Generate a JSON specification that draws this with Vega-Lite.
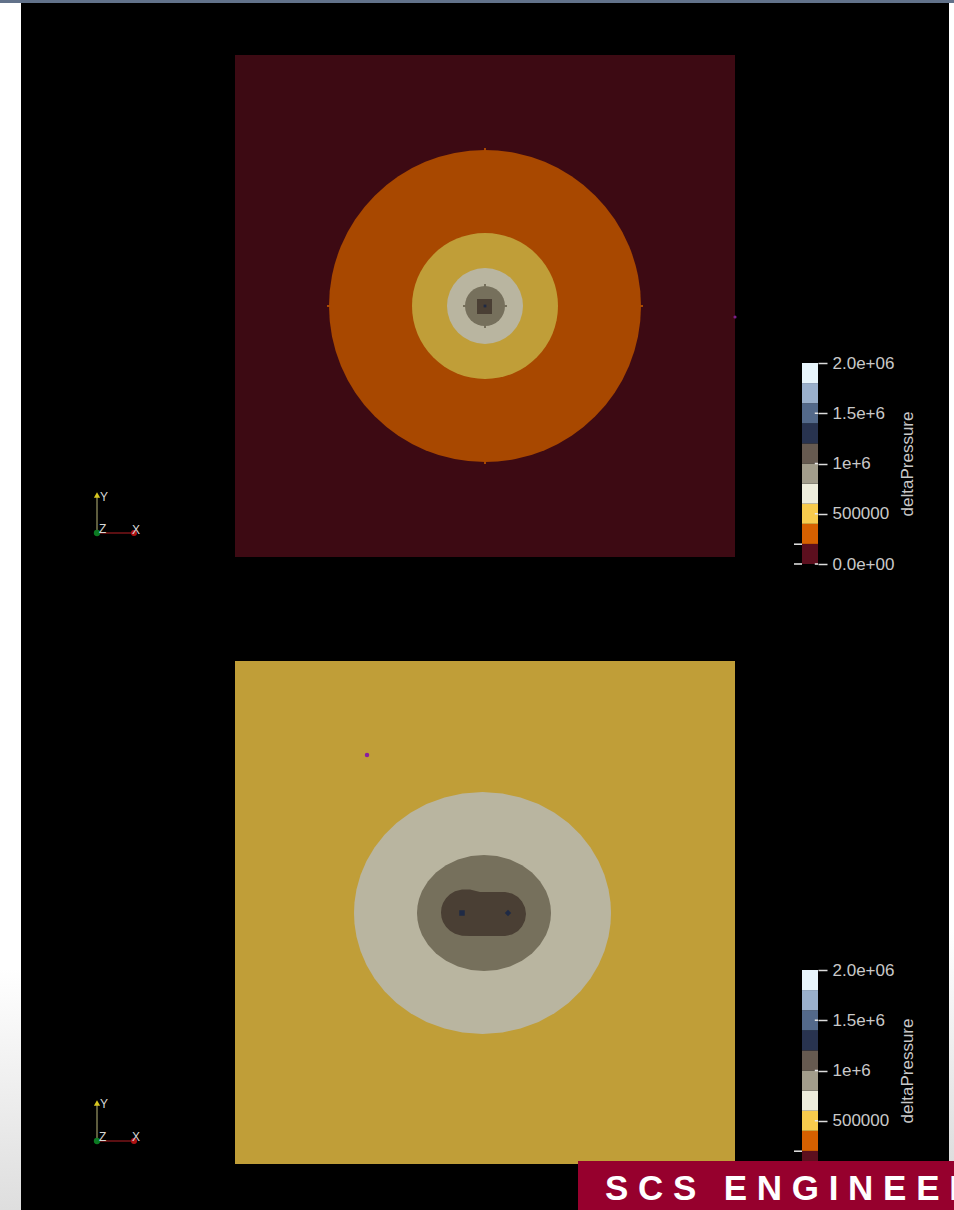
{"$schema":"https://vega.github.io/schema/vega-lite/v6.json","width":954,"height":1210,"autosize":{"type":"none"},"padding":0,"background":"#000000","config":{"view":{"stroke":null},"text":{"font":"Liberation Sans"}},
"datasets":{
"chromeSide":[{"x":0,"x2":21,"y":3,"y2":1210},{"x":949,"x2":954,"y":3,"y2":1161}],
"chromeTop":[{"x":0,"x2":954,"y":0,"y2":3}],
"triadAxes":[{"axis":"Y","x":97,"x2":97,"y":533,"y2":496},{"axis":"X","x":97,"x2":132,"y":533,"y2":533},{"axis":"Y","x":97,"x2":97,"y":1141,"y2":1103},{"axis":"X","x":97,"x2":132,"y":1141,"y2":1141}],
"triadTips":[{"part":"origin","x":97,"y":533},{"part":"Y tip","x":97,"y":495},{"part":"X tip","x":134,"y":533},{"part":"origin","x":97,"y":1141},{"part":"Y tip","x":97,"y":1103},{"part":"X tip","x":134,"y":1141}],
"triadText":[{"label":"Y","x":100,"y":501},{"label":"Z","x":99,"y":533},{"label":"X","x":132,"y":534},{"label":"Y","x":100,"y":1108},{"label":"Z","x":99,"y":1141},{"label":"X","x":132,"y":1141}],
"topSquare":[{"x":-250,"x2":250,"y":-251,"y2":251,"low":0}],
"topCircles":[{"x":0,"y":0,"r":156,"low":200000},{"x":0,"y":0,"r":73,"low":400000},{"x":0,"y":0,"r":38,"low":600000},{"x":0,"y":0,"r":20,"low":800000}],
"topCore":[{"x":-1,"x2":1,"y":154,"y2":158,"low":200000},{"x":-1,"x2":1,"y":-158,"y2":-154,"low":200000},{"x":-158,"x2":-154,"y":-1,"y2":1,"low":200000},{"x":154,"x2":158,"y":-1,"y2":1,"low":200000},{"x":-1,"x2":1,"y":18,"y2":22,"low":800000},{"x":-1,"x2":1,"y":-22,"y2":-18,"low":800000},{"x":-22,"x2":-18,"y":-1,"y2":1,"low":800000},{"x":18,"x2":22,"y":-1,"y2":1,"low":800000},{"x":-8,"x2":7,"y":-8,"y2":7,"low":1000000}],
"topSites":[{"site":"probe","x":250,"y":-11},{"site":"well A","x":0,"y":0}],
"bottomSquare":[{"x":-250,"x2":250,"y":-251.5,"y2":251.5,"low":400000}],
"bottomZones":[
{"x":-131,"y":-0.5,"y2":-0.5,"low":600000},{"x":-130.5,"y":10.2,"y2":-11.2,"low":600000},{"x":-128.5,"y":23.3,"y2":-24.3,"low":600000},{"x":-124.5,"y":37.5,"y2":-38.5,"low":600000},{"x":-118.5,"y":51.5,"y2":-52.5,"low":600000},{"x":-110.5,"y":65.1,"y2":-66.1,"low":600000},{"x":-100.5,"y":77.8,"y2":-78.8,"low":600000},{"x":-88.5,"y":89.4,"y2":-90.4,"low":600000},{"x":-74.5,"y":99.7,"y2":-100.7,"low":600000},{"x":-58.5,"y":108.4,"y2":-109.4,"low":600000},{"x":-40.5,"y":115.1,"y2":-116.1,"low":600000},{"x":-22.5,"y":119,"y2":-120,"low":600000},{"x":-2.5,"y":120.5,"y2":-121.5,"low":600000},{"x":17.5,"y":119,"y2":-120,"low":600000},{"x":35.5,"y":115.1,"y2":-116.1,"low":600000},{"x":53.5,"y":108.4,"y2":-109.4,"low":600000},{"x":69.5,"y":99.7,"y2":-100.7,"low":600000},{"x":83.5,"y":89.4,"y2":-90.4,"low":600000},{"x":95.5,"y":77.8,"y2":-78.8,"low":600000},{"x":105.5,"y":65.1,"y2":-66.1,"low":600000},{"x":113.5,"y":51.5,"y2":-52.5,"low":600000},{"x":119.5,"y":37.5,"y2":-38.5,"low":600000},{"x":123.5,"y":23.3,"y2":-24.3,"low":600000},{"x":125.5,"y":10.2,"y2":-11.2,"low":600000},{"x":126,"y":-0.5,"y2":-0.5,"low":600000},
{"x":-68,"y":-0.5,"y2":-0.5,"low":800000},{"x":-67.5,"y":6.5,"y2":-7.5,"low":800000},{"x":-66,"y":13.5,"y2":-14.5,"low":800000},{"x":-63,"y":21.5,"y2":-22.5,"low":800000},{"x":-57,"y":31.3,"y2":-32.3,"low":800000},{"x":-49,"y":40,"y2":-41,"low":800000},{"x":-39,"y":47.3,"y2":-48.3,"low":800000},{"x":-27,"y":53,"y2":-54,"low":800000},{"x":-14,"y":56.4,"y2":-57.4,"low":800000},{"x":-1,"y":57.5,"y2":-58.5,"low":800000},{"x":12,"y":56.4,"y2":-57.4,"low":800000},{"x":25,"y":53,"y2":-54,"low":800000},{"x":37,"y":47.3,"y2":-48.3,"low":800000},{"x":47,"y":40,"y2":-41,"low":800000},{"x":55,"y":31.3,"y2":-32.3,"low":800000},{"x":61,"y":21.5,"y2":-22.5,"low":800000},{"x":64,"y":13.5,"y2":-14.5,"low":800000},{"x":65.5,"y":6.5,"y2":-7.5,"low":800000},{"x":66,"y":-0.5,"y2":-0.5,"low":800000},
{"x":-44,"y":0,"y2":0,"low":1000000},{"x":-43.5,"y":5,"y2":-5,"low":1000000},{"x":-42,"y":9.4,"y2":-9.4,"low":1000000},{"x":-39,"y":14.3,"y2":-14.3,"low":1000000},{"x":-35,"y":18.2,"y2":-18.2,"low":1000000},{"x":-30,"y":21.2,"y2":-21.2,"low":1000000},{"x":-23,"y":23,"y2":-23.3,"low":1000000},{"x":-15,"y":23,"y2":-23.5,"low":1000000},{"x":-9,"y":21.5,"y2":-23.5,"low":1000000},{"x":-5,"y":20.5,"y2":-23.5,"low":1000000},{"x":20,"y":20.5,"y2":-23.5,"low":1000000},{"x":27,"y":19,"y2":-22,"low":1000000},{"x":33,"y":15.5,"y2":-18.5,"low":1000000},{"x":37,"y":11,"y2":-14,"low":1000000},{"x":40,"y":5,"y2":-8,"low":1000000},{"x":41,"y":-1.5,"y2":-1.5,"low":1000000}],
"bottomSites":[{"site":"probe","x":-118,"y":157.5},{"site":"well A","x":-23,"y":-0.5},{"site":"well B","x":23,"y":-0.5}],
"bands":[{"low":0,"high":200000},{"low":200000,"high":400000},{"low":400000,"high":600000},{"low":600000,"high":800000},{"low":800000,"high":1000000},{"low":1000000,"high":1200000},{"low":1200000,"high":1400000},{"low":1400000,"high":1600000},{"low":1600000,"high":1800000},{"low":1800000,"high":2000000}],
"barTicksTop":[{"low":197000,"from":-0.5,"to":0},{"low":0,"from":-0.5,"to":0},{"low":0,"from":0.8,"to":1},{"low":500000,"from":0.8,"to":1},{"low":1000000,"from":0.8,"to":1},{"low":1500000,"from":0.8,"to":1}],
"barTicksBottom":[{"low":197000,"from":-0.5,"to":0},{"low":500000,"from":0.8,"to":1},{"low":1000000,"from":0.8,"to":1},{"low":1500000,"from":0.8,"to":1}],
"banner":[{"x":578,"x2":954,"y":1161,"y2":1210}],
"bannerText":[{"label":"S C S \u2002E N G I N E E R I N G","x":605,"y":1200}]
},
"layer":[
{"encoding":{"x":{"field":"x","type":"quantitative","axis":null,"scale":{"domain":[0,954],"range":[0,954],"nice":false,"zero":false}},"y":{"field":"y","type":"quantitative","axis":null,"scale":{"domain":[0,1210],"range":[0,1210],"nice":false,"zero":false}}},
"resolve":{"scale":{"color":"independent"}},
"layer":[
{"data":{"name":"chromeSide"},"mark":{"type":"rect","color":{"gradient":"linear","x1":0,"y1":0,"x2":0,"y2":1,"stops":[{"offset":0,"color":"#ffffff"},{"offset":0.8,"color":"#ffffff"},{"offset":1,"color":"#dedede"}]}},"encoding":{"x2":{"field":"x2"},"y2":{"field":"y2"}}},
{"data":{"name":"chromeTop"},"mark":{"type":"rect","color":"#62728a"},"encoding":{"x2":{"field":"x2"},"y2":{"field":"y2"}}},
{"data":{"name":"triadAxes"},"mark":{"type":"rule","strokeWidth":1.5},"encoding":{"x2":{"field":"x2"},"y2":{"field":"y2"},"color":{"field":"axis","type":"nominal","legend":null,"scale":{"domain":["X","Y"],"range":["#7a1418","#7d7b52"]}}}},
{"data":{"name":"triadTips"},"mark":{"type":"point","filled":true,"opacity":1},"encoding":{"color":{"field":"part","type":"nominal","legend":null,"scale":{"domain":["origin","Y tip","X tip"],"range":["#0b7a22","#d9c81f","#b01212"]}},"shape":{"field":"part","type":"nominal","legend":null,"scale":{"domain":["origin","Y tip","X tip"],"range":["circle","triangle-up","circle"]}},"size":{"field":"part","type":"nominal","legend":null,"scale":{"domain":["origin","Y tip","X tip"],"range":[40,36,28]}}}},
{"data":{"name":"triadText"},"mark":{"type":"text","align":"left","baseline":"alphabetic","fontSize":12,"font":"Liberation Sans","color":"#d8d8d8"},"encoding":{"text":{"field":"label"}}}
]},
{"encoding":{"x":{"field":"x","type":"quantitative","axis":null,"scale":{"domain":[-250,250],"range":[235,735],"nice":false,"zero":false}},"y":{"field":"y","type":"quantitative","axis":null,"scale":{"domain":[-251,251],"range":[557,55],"nice":false,"zero":false}},"color":{"field":"low","type":"ordinal","legend":null,"scale":{"domain":[0,200000,400000,600000,800000,1000000,1200000],"range":["#3d0a13","#a84800","#c09e38","#b9b5a0","#76705c","#4a3f34","#1f2a45"]}}},
"resolve":{"scale":{"color":"independent"}},
"layer":[
{"data":{"name":"topSquare"},"mark":{"type":"rect"},"encoding":{"x2":{"field":"x2"},"y2":{"field":"y2"}}},
{"data":{"name":"topCircles"},"mark":{"type":"arc","theta":0,"theta2":6.2832,"innerRadius":0},"encoding":{"radius":{"field":"r","type":"quantitative","stack":null,"legend":null,"scale":{"type":"linear","domain":[0,500],"range":[0,500]}}}},
{"data":{"name":"topCore"},"mark":{"type":"rect"},"encoding":{"x2":{"field":"x2"},"y2":{"field":"y2"}}},
{"data":{"name":"topSites"},"mark":{"type":"point","filled":true,"opacity":1},"encoding":{"color":{"field":"site","type":"nominal","legend":null,"scale":{"domain":["probe","well A","well B"],"range":["#7a1f8a","#1f2a45","#1f2a45"]}},"shape":{"field":"site","type":"nominal","legend":null,"scale":{"domain":["probe","well A","well B"],"range":["circle","square","diamond"]}},"size":{"field":"site","type":"nominal","legend":null,"scale":{"domain":["probe","well A","well B"],"range":[10,5,5]}}}}
]},
{"encoding":{"x":{"field":"x","type":"quantitative","axis":null,"scale":{"domain":[-250,250],"range":[235,735],"nice":false,"zero":false}},"y":{"field":"y","type":"quantitative","axis":null,"scale":{"domain":[-251.5,251.5],"range":[1164,661],"nice":false,"zero":false}},"color":{"field":"low","type":"ordinal","legend":null,"scale":{"domain":[0,200000,400000,600000,800000,1000000,1200000],"range":["#3d0a13","#a84800","#c09e38","#b9b5a0","#76705c","#4a3f34","#1f2a45"]}}},
"resolve":{"scale":{"color":"independent"}},
"layer":[
{"data":{"name":"bottomSquare"},"mark":{"type":"rect"},"encoding":{"x2":{"field":"x2"},"y2":{"field":"y2"}}},
{"data":{"name":"bottomZones"},"mark":{"type":"area"},"encoding":{"y2":{"field":"y2"}}},
{"data":{"name":"bottomSites"},"mark":{"type":"point","filled":true,"opacity":1},"encoding":{"color":{"field":"site","type":"nominal","legend":null,"scale":{"domain":["probe","well A","well B"],"range":["#8a1fa0","#1f2a45","#1f2a45"]}},"shape":{"field":"site","type":"nominal","legend":null,"scale":{"domain":["probe","well A","well B"],"range":["circle","square","diamond"]}},"size":{"field":"site","type":"nominal","legend":null,"scale":{"domain":["probe","well A","well B"],"range":[20,40,40]}}}}
]},
{"encoding":{"y":{"field":"low","type":"quantitative","scale":{"domain":[0,2000000],"range":[564,363],"nice":false,"zero":false},"axis":{"orient":"right","offset":-136,"values":[0,500000,1000000,1500000,2000000],"labelExpr":"datum.value==0?'0.0e+00':datum.value==500000?'500000':datum.value==1000000?'1e+6':datum.value==1500000?'1.5e+6':'2.0e+06'","domain":false,"grid":false,"zindex":0,"tickColor":"#dcdcdc","tickSize":9,"tickWidth":1.5,"labelColor":"#c9c9c9","labelFont":"Liberation Sans","labelFontSize":17,"labelPadding":5,"labelOverlap":false,"labelBound":false,"labelFlush":false,"title":"deltaPressure","titleColor":"#c9c9c9","titleFont":"Liberation Sans","titleFontSize":17,"titleFontWeight":"normal","titleAngle":-90,"titleBaseline":"middle","titleX":89}}},
"layer":[
{"data":{"name":"bands"},"mark":{"type":"rect"},"encoding":{"x":{"datum":0,"type":"quantitative","axis":null,"scale":{"domain":[0,1],"range":[802,818],"nice":false,"zero":false}},"x2":{"datum":1},"y2":{"field":"high"},"color":{"field":"low","type":"ordinal","legend":null,"scale":{"domain":[0,200000,400000,600000,800000,1000000,1200000,1400000,1600000,1800000],"range":["#5c0f1e","#d66000","#f7cb4d","#eeeddc","#a29d8b","#665a50","#28334f","#53698a","#9ab0cc","#e8f5fc"]}}}},
{"data":{"name":"barTicksTop"},"mark":{"type":"rule","color":"#e8e8e8","strokeWidth":1.5},"encoding":{"x":{"field":"from","type":"quantitative","axis":null,"scale":{"domain":[0,1],"range":[802,818],"nice":false,"zero":false}},"x2":{"field":"to"}}}
]},
{"encoding":{"y":{"field":"low","type":"quantitative","scale":{"domain":[0,2000000],"range":[1171,970],"nice":false,"zero":false},"axis":{"orient":"right","offset":-136,"values":[500000,1000000,1500000,2000000],"labelExpr":"datum.value==500000?'500000':datum.value==1000000?'1e+6':datum.value==1500000?'1.5e+6':'2.0e+06'","domain":false,"grid":false,"zindex":0,"tickColor":"#dcdcdc","tickSize":9,"tickWidth":1.5,"labelColor":"#c9c9c9","labelFont":"Liberation Sans","labelFontSize":17,"labelPadding":5,"labelOverlap":false,"labelBound":false,"labelFlush":false,"title":"deltaPressure","titleColor":"#c9c9c9","titleFont":"Liberation Sans","titleFontSize":17,"titleFontWeight":"normal","titleAngle":-90,"titleBaseline":"middle","titleX":89}}},
"layer":[
{"data":{"name":"bands"},"mark":{"type":"rect"},"encoding":{"x":{"datum":0,"type":"quantitative","axis":null,"scale":{"domain":[0,1],"range":[802,818],"nice":false,"zero":false}},"x2":{"datum":1},"y2":{"field":"high"},"color":{"field":"low","type":"ordinal","legend":null,"scale":{"domain":[0,200000,400000,600000,800000,1000000,1200000,1400000,1600000,1800000],"range":["#5c0f1e","#d66000","#f7cb4d","#eeeddc","#a29d8b","#665a50","#28334f","#53698a","#9ab0cc","#e8f5fc"]}}}},
{"data":{"name":"barTicksBottom"},"mark":{"type":"rule","color":"#e8e8e8","strokeWidth":1.5},"encoding":{"x":{"field":"from","type":"quantitative","axis":null,"scale":{"domain":[0,1],"range":[802,818],"nice":false,"zero":false}},"x2":{"field":"to"}}}
]},
{"encoding":{"x":{"field":"x","type":"quantitative","axis":null,"scale":{"domain":[0,954],"range":[0,954],"nice":false,"zero":false}},"y":{"field":"y","type":"quantitative","axis":null,"scale":{"domain":[0,1210],"range":[0,1210],"nice":false,"zero":false}}},
"layer":[
{"data":{"name":"banner"},"mark":{"type":"rect","color":"#96002d"},"encoding":{"x2":{"field":"x2"},"y2":{"field":"y2"}}},
{"data":{"name":"bannerText"},"mark":{"type":"text","align":"left","baseline":"alphabetic","font":"Liberation Sans","fontWeight":"bold","fontSize":35,"color":"#ffffff"},"encoding":{"text":{"field":"label"}}}
]}
],
"resolve":{"scale":{"x":"independent","y":"independent","color":"independent","shape":"independent","size":"independent"},"axis":{"x":"independent","y":"independent"}}
}
